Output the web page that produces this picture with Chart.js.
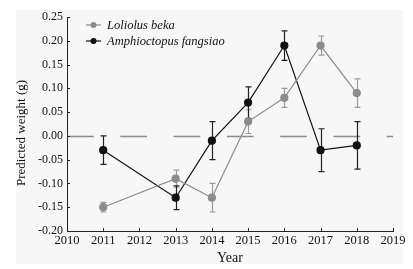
<!DOCTYPE html>
<html>
<head>
<meta charset="utf-8">
<script src="https://cdn.jsdelivr.net/npm/chart.js@4/dist/chart.umd.min.js"></script>
<style>
  html,body{margin:0;padding:0;background:#ffffff;}
  #wrap{width:413px;height:269px;position:relative;}
</style>
</head>
<body>
<div id="wrap"><canvas id="c" width="413" height="269"></canvas></div>
<script>
// ---- data ----
const years = [2011, 2013, 2014, 2015, 2016, 2017, 2018];
const lolMean = [-0.15, -0.09, -0.13, 0.03, 0.08, 0.19, 0.09];
const lolErr  = [0.01, 0.018, 0.03, 0.025, 0.02, 0.02, 0.03];
const ampMean = [-0.03, -0.13, -0.01, 0.07, 0.19, -0.03, -0.02];
const ampErr  = [0.03, 0.025, 0.04, 0.033, 0.031, 0.045, 0.05];
const seriesNames = ['Loliolus beka', 'Amphioctopus fangsiao'];
const xTicks = [2010, 2011, 2012, 2013, 2014, 2015, 2016, 2017, 2018, 2019];
const yTicks = [-0.20, -0.15, -0.10, -0.05, 0.00, 0.05, 0.10, 0.15, 0.20, 0.25];
const xTitle = 'Year';
const yTitle = 'Predicted weight (g)';

const GRAY = '#8c8c8c', GRAY_ERR = '#9c9c9c', BLACK = '#111111';
const SERIF = '"Liberation Serif", "DejaVu Serif", serif';

const toPts = (xs, ys) => xs.map((x, i) => ({x: x, y: ys[i]}));

const errPlugin = {
  id: 'extras',
  beforeDraw(chart) {
    const ctx = chart.ctx;
    ctx.save();
    ctx.fillStyle = '#f7f7f7';
    ctx.fillRect(16, 10, 387, 254);
    ctx.restore();
  },
  beforeDatasetsDraw(chart) {
    const ctx = chart.ctx, xs = chart.scales.x, ys = chart.scales.y;
    // zero dashed line
    ctx.save();
    ctx.strokeStyle = '#8c8c8c';
    ctx.lineWidth = 1.3;
    ctx.setLineDash([26.7, 26.6]);
    const y0 = Math.round(ys.getPixelForValue(0)) + 0.5;
    ctx.beginPath();
    ctx.moveTo(xs.left, y0);
    ctx.lineTo(xs.right, y0);
    ctx.stroke();
    ctx.restore();
    // error bars
    const drawErr = (means, errs, color) => {
      ctx.save();
      ctx.strokeStyle = color;
      ctx.lineWidth = 1.2;
      years.forEach((yr, i) => {
        const px = Math.round(xs.getPixelForValue(yr)) + 0.5;
        const t = ys.getPixelForValue(means[i] + errs[i]);
        const b = ys.getPixelForValue(means[i] - errs[i]);
        ctx.beginPath();
        ctx.moveTo(px, t); ctx.lineTo(px, b);
        ctx.moveTo(px - 3, t); ctx.lineTo(px + 3, t);
        ctx.moveTo(px - 3, b); ctx.lineTo(px + 3, b);
        ctx.stroke();
      });
      ctx.restore();
    };
    drawErr(lolMean, lolErr, GRAY_ERR);
    drawErr(ampMean, ampErr, '#222222');
  },
  afterDraw(chart) {
    const ctx = chart.ctx, xs = chart.scales.x, ys = chart.scales.y;
    ctx.save();
    // inward ticks
    ctx.strokeStyle = '#222';
    ctx.lineWidth = 1;
    ctx.beginPath();
    xTicks.forEach(v => {
      const px = Math.round(xs.getPixelForValue(v)) + 0.5;
      ctx.moveTo(px, ys.bottom); ctx.lineTo(px, ys.bottom - 3);
    });
    yTicks.forEach(v => {
      const py = Math.round(ys.getPixelForValue(v)) + 0.5;
      ctx.moveTo(xs.left, py); ctx.lineTo(xs.left + 3, py);
    });
    ctx.stroke();
    // axis titles
    ctx.fillStyle = '#111';
    ctx.font = '14px ' + SERIF;
    ctx.textAlign = 'center';
    ctx.textBaseline = 'middle';
    ctx.fillText(xTitle, (xs.left + xs.right) / 2, 258);
    ctx.save();
    ctx.translate(22, 133);
    ctx.rotate(-Math.PI / 2);
    ctx.font = '13px ' + SERIF;
    ctx.fillText(yTitle, 0, 0);
    ctx.restore();
    // legend
    const items = [[seriesNames[0], GRAY, 25], [seriesNames[1], BLACK, 41]];
    items.forEach(([name, col, ly]) => {
      ctx.strokeStyle = col;
      ctx.fillStyle = col;
      ctx.lineWidth = 1.2;
      ctx.beginPath();
      ctx.moveTo(86, ly); ctx.lineTo(101, ly);
      ctx.stroke();
      ctx.beginPath();
      ctx.arc(93.5, ly, 3, 0, Math.PI * 2);
      ctx.fill();
      ctx.fillStyle = '#111';
      ctx.font = 'italic 12.5px ' + SERIF;
      ctx.textAlign = 'left';
      ctx.fillText(name, 107, ly + 0.5);
    });
    ctx.restore();
  }
};

new Chart(document.getElementById('c'), {
  type: 'line',
  data: {
    datasets: [
      {
        label: seriesNames[0],
        data: toPts(years, lolMean),
        borderColor: GRAY, backgroundColor: GRAY,
        pointBackgroundColor: GRAY, pointBorderColor: GRAY,
        borderWidth: 1.2, pointRadius: 3.5, tension: 0
      },
      {
        label: seriesNames[1],
        data: toPts(years, ampMean),
        borderColor: BLACK, backgroundColor: BLACK,
        pointBackgroundColor: BLACK, pointBorderColor: BLACK,
        borderWidth: 1.2, pointRadius: 3.5, tension: 0
      }
    ]
  },
  options: {
    responsive: false,
    animation: false,
    devicePixelRatio: 1,
    layout: { padding: { top: 17, right: 20, left: 0, bottom: 0 } },
    plugins: { legend: { display: false }, tooltip: { enabled: false } },
    scales: {
      x: {
        type: 'linear', min: xTicks[0], max: xTicks[xTicks.length - 1],
        afterBuildTicks(s) { s.ticks = xTicks.map(v => ({value: v})); },
        afterFit(s) { s.height = 38; },
        border: { display: true, color: '#222', width: 1 },
        grid: { display: false, drawTicks: false },
        ticks: {
          color: '#111', padding: 2, maxRotation: 0, autoSkip: false,
          font: { family: SERIF, size: 12.5 },
          callback: v => String(v)
        }
      },
      y: {
        type: 'linear', min: yTicks[0], max: yTicks[yTicks.length - 1],
        afterBuildTicks(s) { s.ticks = yTicks.map(v => ({value: v})); },
        afterFit(s) { s.width = 67; },
        border: { display: true, color: '#222', width: 1 },
        grid: { display: false, drawTicks: false },
        ticks: {
          color: '#111', padding: 4, autoSkip: false,
          font: { family: SERIF, size: 12 },
          callback: v => Number(v).toFixed(2)
        }
      }
    }
  },
  plugins: [errPlugin]
});
</script>
</body>
</html>
